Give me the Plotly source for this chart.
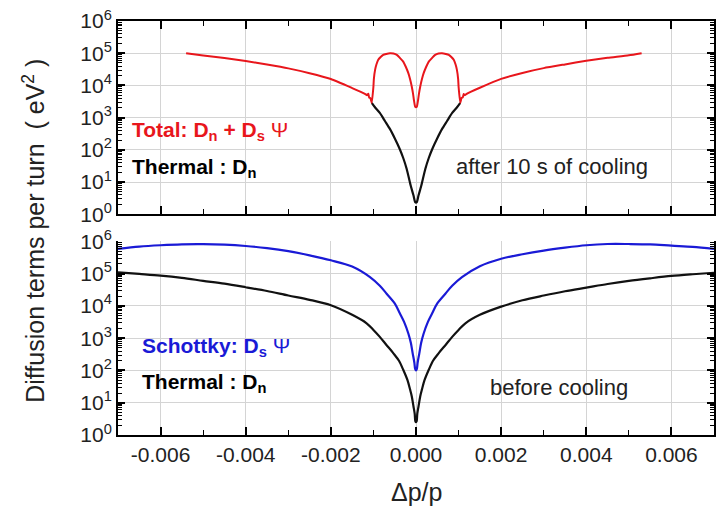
import plotly.graph_objects as go

# ---------------- data ----------------
# Top panel: after 10 s of cooling
x_total = [-0.0054, -0.005, -0.0045, -0.004, -0.0035, -0.003, -0.0025, -0.002, -0.0015,
           -0.0012, -0.00115, -0.00112, -0.0011, -0.00107, -0.00104,
           -0.001, -0.00099, -0.00096, -0.00093, -0.00089, -0.00083, -0.00077, -0.0007,
           -0.00061, -0.00053, -0.00045, -0.00038, -0.0003, -0.00024, -0.00018, -0.00014,
           -0.0001, -0.00007, -0.00005, -0.00002, 0.0,
           0.00002, 0.00005, 0.00007, 0.0001, 0.00014, 0.00018, 0.00024, 0.0003, 0.00038,
           0.00045, 0.00053, 0.00061, 0.0007, 0.00077, 0.00083, 0.00089, 0.00093, 0.00096,
           0.00099, 0.001,
           0.00104, 0.00107, 0.0011, 0.00112, 0.00115, 0.0012,
           0.0015, 0.002, 0.0025, 0.003, 0.0035, 0.004, 0.0045, 0.005, 0.0053]
y_total = [1.0e5, 8.5e4, 7.1e4, 5.75e4, 4.47e4, 3.39e4, 2.4e4, 1.58e4, 8.3e3,
           5.5e3, 5.0e3, 5.5e3, 4.2e3, 4.0e3, 2.9e3,
           9.3e3, 1.58e4, 3.1e4, 4.47e4, 6.2e4, 7.6e4, 8.9e4, 9.5e4,
           1.0e5, 9.8e4, 8.9e4, 7.2e4, 5.5e4, 3.8e4, 2.4e4, 1.58e4,
           9.3e3, 5.6e3, 3.6e3, 2.2e3, 2.1e3,
           2.2e3, 3.6e3, 5.6e3, 9.3e3, 1.58e4, 2.4e4, 3.8e4, 5.5e4, 7.2e4,
           8.9e4, 9.8e4, 1.0e5, 9.5e4, 8.9e4, 7.6e4, 6.2e4, 4.47e4, 3.1e4,
           1.58e4, 9.3e3,
           2.9e3, 4.1e3, 4.3e3, 5.4e3, 5.0e3, 5.6e3,
           8.5e3, 1.6e4, 2.45e4, 3.45e4, 4.5e4, 5.8e4, 7.2e4, 8.6e4, 1.0e5]

x_thermal_after = [-0.00104, -0.00095, -0.00085, -0.00073, -0.00061, -0.0005, -0.00038, -0.0003,
                   -0.00022, -0.000125, -0.00006, -0.00002, 0.0,
                   0.00002, 0.00006, 0.000125, 0.00022, 0.0003, 0.00038, 0.0005, 0.00061,
                   0.00073, 0.00085, 0.00095, 0.00104]
y_thermal_after = [2.9e3, 2.0e3, 1.4e3, 790, 440, 230, 105, 56,
                   26, 7.8, 3.9, 2.4, 2.3,
                   2.4, 3.9, 7.8, 26, 56, 105, 230, 440,
                   790, 1.4e3, 2.0e3, 2.9e3]

# Bottom panel: before cooling
x_before = [-0.007, -0.0065, -0.006, -0.0055, -0.005, -0.0045, -0.004, -0.0035, -0.003, -0.0025,
            -0.002, -0.0015, -0.00116, -0.001, -0.00085, -0.0007, -0.00053, -0.0004, -0.0003,
            -0.0002, -0.00014, -0.0001, -0.00006, -0.00003, -0.000016, 0.0,
            0.000016, 0.00003, 0.00006, 0.0001, 0.00014, 0.0002, 0.0003, 0.0004, 0.00053,
            0.0007, 0.00085, 0.001, 0.00116, 0.0015, 0.002, 0.0025, 0.003, 0.0035, 0.004,
            0.0045, 0.005, 0.0055, 0.006, 0.0065, 0.007]
y_thermal_before = [1.1e5, 9.8e4, 8.7e4, 7.4e4, 6.0e4, 4.9e4, 3.8e4, 2.9e4, 2.1e4, 1.55e4,
                    1.05e4, 5.3e3, 2.9e3, 1.8e3, 1.1e3, 630, 340, 200, 105,
                    50, 26, 16, 7.8, 4.5, 2.7, 2.5,
                    2.7, 4.5, 7.8, 16, 26, 50, 105, 200, 340,
                    630, 1.1e3, 1.8e3, 2.9e3, 5.3e3, 9.5e3, 1.5e4, 2.1e4, 2.85e4, 3.7e4,
                    4.8e4, 6.0e4, 7.2e4, 8.5e4, 9.6e4, 1.07e5]

x_schottky = [-0.007, -0.0065, -0.006, -0.0055, -0.005, -0.0045, -0.004, -0.0035, -0.003, -0.0025,
              -0.002, -0.0015, -0.00108, -0.00085, -0.00069, -0.0005, -0.00038, -0.00028,
              -0.00018, -0.00012, -0.000078, -0.00004, -0.00002, 0.0,
              0.00002, 0.00004, 0.000078, 0.00012, 0.00018, 0.00028, 0.00038, 0.0005,
              0.00069, 0.00085, 0.00108, 0.0015, 0.002, 0.0025, 0.003, 0.0035, 0.004,
              0.0045, 0.005, 0.0055, 0.006, 0.0065, 0.007]
y_schottky = [5.9e5, 6.9e5, 7.6e5, 8.1e5, 8.2e5, 7.9e5, 7.2e5, 6.2e5, 5.0e5, 3.7e5,
              2.6e5, 1.66e5, 7.8e4, 4.2e4, 2.4e4, 1.2e4, 5.9e3, 3.2e3,
              1.4e3, 710, 340, 180, 112, 100,
              112, 180, 340, 710, 1.4e3, 3.2e3, 5.9e3, 1.2e4,
              2.4e4, 4.2e4, 7.8e4, 1.7e5, 2.9e5, 4.0e5, 5.2e5, 6.4e5, 7.6e5,
              8.3e5, 8.3e5, 8.1e5, 7.4e5, 6.8e5, 5.9e5]

x_tickvals = [-0.006, -0.004, -0.002, 0.0, 0.002, 0.004, 0.006]
x_ticktext = ["-0.006", "-0.004", "-0.002", "0.000", "0.002", "0.004", "0.006"]
x_minor = [-0.007, -0.005, -0.003, -0.001, 0.001, 0.003, 0.005, 0.007]
y_tickvals = [1, 10, 100, 1e3, 1e4, 1e5, 1e6]
y_ticktext = ["10<sup>0</sup>", "10<sup>1</sup>", "10<sup>2</sup>", "10<sup>3</sup>",
              "10<sup>4</sup>", "10<sup>5</sup>", "10<sup>6</sup>"]
y_minor = [m * d for d in [1, 10, 100, 1e3, 1e4, 1e5] for m in range(2, 10)]

# ---------------- figure ----------------
RED = "#e8161c"
BLUE = "#1a1ad6"
BLACK = "#111111"
FONT = "Liberation Sans, Arial, sans-serif"

fig = go.Figure()
fig.add_trace(go.Scatter(x=x_thermal_after, y=y_thermal_after, mode="lines",
                         line=dict(color=BLACK, width=2.2, shape="spline", smoothing=0.8),
                         xaxis="x", yaxis="y"))
fig.add_trace(go.Scatter(x=x_total, y=y_total, mode="lines",
                         line=dict(color=RED, width=2.0, shape="spline", smoothing=0.5),
                         xaxis="x", yaxis="y"))
fig.add_trace(go.Scatter(x=x_before, y=y_thermal_before, mode="lines",
                         line=dict(color=BLACK, width=2.2, shape="spline", smoothing=0.9),
                         xaxis="x2", yaxis="y2"))
fig.add_trace(go.Scatter(x=x_schottky, y=y_schottky, mode="lines",
                         line=dict(color=BLUE, width=2.2, shape="spline", smoothing=0.9),
                         xaxis="x2", yaxis="y2"))

GRID = "#d4d4d4"
xcommon = dict(range=[-0.007, 0.007], tickmode="array", tickvals=x_tickvals,
               ticks="inside", ticklen=8, tickwidth=1.5, tickcolor="black",
               showline=True, linecolor="black", linewidth=1.8,
               showgrid=True, gridcolor=GRID, gridwidth=1, zeroline=False,
               minor=dict(tickmode="array", tickvals=x_minor, ticks="inside",
                          ticklen=5, tickwidth=1.3, tickcolor="black", showgrid=False))
ycommon = dict(type="log", range=[0, 6], tickmode="array", tickvals=y_tickvals,
               ticktext=y_ticktext, ticks="inside", ticklen=7, tickwidth=1.5,
               tickcolor="black", showline=True, linecolor="black", linewidth=1.8,
               mirror="ticks", showgrid=True, gridcolor=GRID, gridwidth=1, zeroline=False,
               tickfont=dict(family=FONT, size=21, color="#222"),
               minor=dict(tickmode="array", tickvals=y_minor, ticks="inside",
                          ticklen=4, tickwidth=1, tickcolor="black", showgrid=False))

fig.update_layout(
    width=723, height=510,
    margin=dict(l=118, r=7, t=18, b=75),
    paper_bgcolor="white", plot_bgcolor="white",
    showlegend=False,
    font=dict(family=FONT, color="#222"),
    xaxis=dict(xcommon, anchor="y", domain=[0, 1], showticklabels=False, mirror="ticks"),
    yaxis=dict(ycommon, anchor="x", domain=[0.533, 1.0]),
    xaxis2=dict(xcommon, anchor="y2", domain=[0, 1], ticktext=x_ticktext,
                showticklabels=True, mirror=False,
                tickfont=dict(family=FONT, size=21, color="#222")),
    yaxis2=dict(ycommon, anchor="x2", domain=[0, 0.4676]),
)


def px_x(p):
    return (p - 118) / 598.0


def px_y(p):
    return (435 - p) / 417.0


ann = [
    dict(text="<b>Total: D<sub>n</sub> + D<sub>s</sub></b> Ψ", x=px_x(130), y=px_y(129),
         font=dict(size=21, color=RED)),
    dict(text="<b>Thermal : D<sub>n</sub></b>", x=px_x(130), y=px_y(166),
         font=dict(size=21, color="black")),
    dict(text="after 10 s of cooling", x=px_x(455), y=px_y(165),
         font=dict(size=22, color="#222")),
    dict(text="<b>Schottky: D<sub>s</sub></b> Ψ", x=px_x(140), y=px_y(346),
         font=dict(size=21, color=BLUE)),
    dict(text="<b>Thermal : D<sub>n</sub></b>", x=px_x(140), y=px_y(383),
         font=dict(size=21, color="black")),
    dict(text="before cooling", x=px_x(489), y=px_y(387),
         font=dict(size=22, color="#222")),
]
for a in ann:
    fig.add_annotation(xref="paper", yref="paper", xanchor="left", yanchor="middle",
                       showarrow=False, x=a["x"], y=a["y"], text=a["text"],
                       font=dict(family=FONT, **a["font"]))

fig.add_annotation(xref="paper", yref="paper", x=px_x(34), y=px_y(229),
                   text="Diffusion terms per turn  ( eV<sup>2</sup> )", textangle=-90,
                   showarrow=False, xanchor="center", yanchor="middle",
                   font=dict(family=FONT, size=25, color="#222"))
fig.add_annotation(xref="paper", yref="paper", x=px_x(417), y=px_y(492),
                   text="Δp/p", showarrow=False, xanchor="center", yanchor="middle",
                   font=dict(family=FONT, size=25, color="#222"))

fig.write_html("out.html")
